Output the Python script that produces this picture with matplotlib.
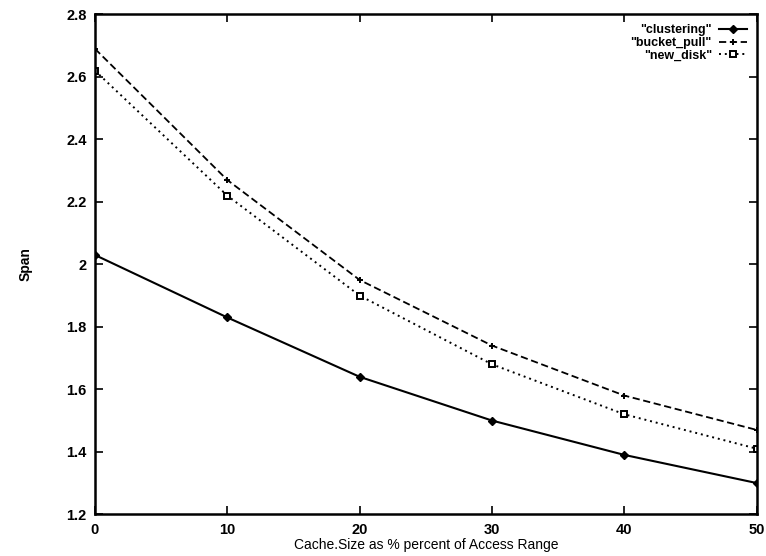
import matplotlib
matplotlib.use("Agg")
import matplotlib.pyplot as plt
from matplotlib.ticker import FuncFormatter

plt.rcParams['font.family'] = ['Liberation Sans', 'DejaVu Sans']

cache_pct = [0, 10, 20, 30, 40, 50]
clustering = [2.03, 1.83, 1.64, 1.50, 1.39, 1.30]
bucket_pull = [2.69, 2.27, 1.95, 1.74, 1.58, 1.47]
new_disk = [2.62, 2.22, 1.90, 1.68, 1.52, 1.41]

x_ticks = [0, 10, 20, 30, 40, 50]
y_ticks = [1.2, 1.4, 1.6, 1.8, 2.0, 2.2, 2.4, 2.6, 2.8]

fig = plt.figure(figsize=(7.66, 5.56), dpi=100)
ax = fig.add_axes([0.124, 0.075, 0.864, 0.899])

ax.plot(cache_pct, clustering, color='black', linestyle='-', linewidth=1.5,
        marker='D', markersize=4, markerfacecolor='black', label='"clustering"')
ax.plot(cache_pct, bucket_pull, color='black', linestyle=(0, (4, 2)), linewidth=1.3,
        marker='+', markersize=5, markeredgewidth=1.4, label='"bucket_pull"')
ax.plot(cache_pct, new_disk, color='black', linestyle=(0, (1, 2)), linewidth=1.4,
        marker='s', markersize=5, markerfacecolor='white', markeredgewidth=1.4,
        label='"new_disk"')

ax.set_xlim(0, 50)
ax.set_ylim(1.2, 2.8)
ax.set_xticks(x_ticks)
ax.set_yticks(y_ticks)
ax.yaxis.set_major_formatter(FuncFormatter(lambda v, p: f"{v:g}"))
ax.tick_params(direction='in', length=6, width=1.2, top=True, right=True,
               labelsize=10.5, pad=6)
for lbl in ax.get_xticklabels() + ax.get_yticklabels():
    lbl.set_fontweight('bold')
for s in ax.spines.values():
    s.set_linewidth(1.8)

ax.set_xlabel('Cache.Size as % percent of Access Range', fontsize=10, labelpad=1)
ax.set_ylabel('Span', fontsize=10, fontweight='bold', labelpad=24)

leg = ax.legend(loc='upper right', frameon=False, markerfirst=False,
                fontsize=9, handlelength=2.2, handletextpad=0.6,
                labelspacing=0.05, borderaxespad=0.4)
for t in leg.get_texts():
    t.set_ha('right')
    t.set_fontweight('bold')
leg._legend_box.align = 'right'

fig.savefig('out.png', dpi=100)
